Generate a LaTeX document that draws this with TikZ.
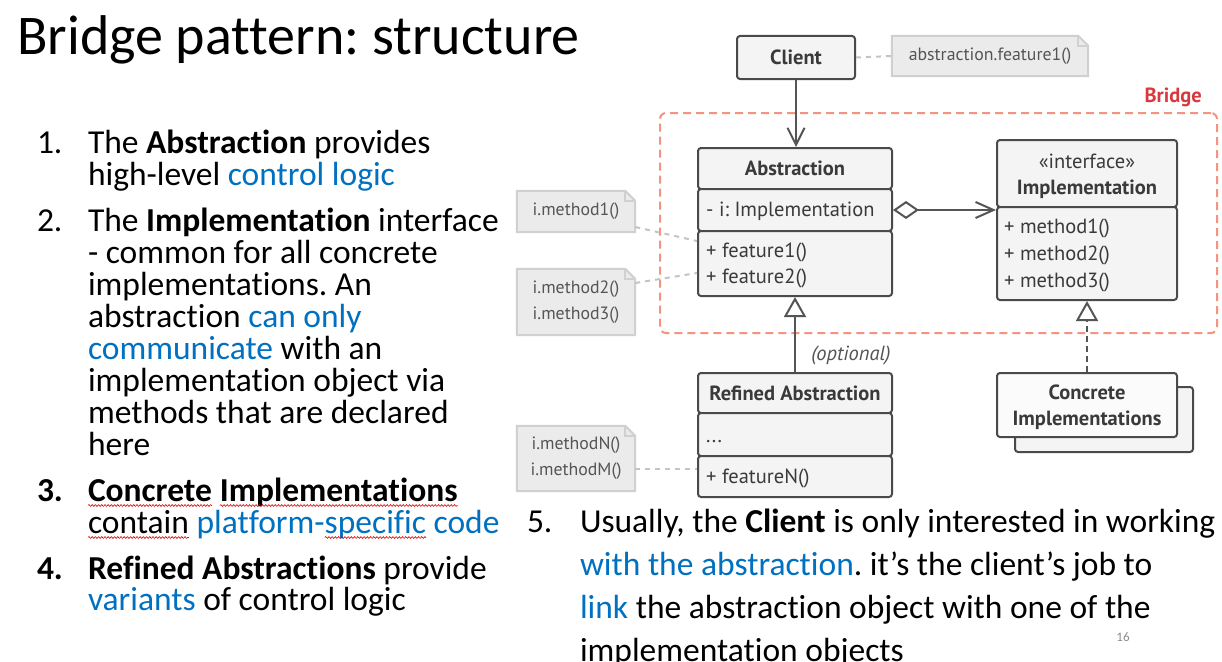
\documentclass[tikz,border=0pt]{standalone}
\usepackage{fontspec}
\setmainfont{Carlito}[Ligatures={NoCommon}]
\newfontfamily\dgf{PT Sans}
\usetikzlibrary{arrows.meta,backgrounds,decorations.pathmorphing}
\definecolor{linkblue}{HTML}{0070C0}
\definecolor{boxline}{HTML}{4A4A4A}
\definecolor{boxfill}{HTML}{F4F4F4}
\definecolor{boxtext}{HTML}{3A3A3A}
\definecolor{notefill}{HTML}{EBEBEB}
\definecolor{noteline}{HTML}{D0D0D0}
\definecolor{notetext}{HTML}{555555}
\definecolor{dotline}{HTML}{C4C4C4}
\definecolor{bridgered}{HTML}{F4937F}
\definecolor{bridgetext}{HTML}{D8393E}
\definecolor{arrowgray}{HTML}{555555}
\newcommand\bl[1]{\textcolor{linkblue}{#1}}
\newcommand\dogear[1]{%
  \path[fill=notefill, draw=noteline, line width=2pt] (#1.north west) -- ([xshift=-10pt]#1.north east) -- ([yshift=-10pt]#1.north east) -- (#1.south east) -- (#1.south west) -- cycle;
  \draw[noteline, line width=2pt] ([xshift=-10pt]#1.north east) -- ([xshift=-10pt,yshift=-10pt]#1.north east) -- ([yshift=-10pt]#1.north east);}
\newcommand\squnder[1]{\draw[squig] ([yshift=-4.5pt]#1.base west) -- ([yshift=-4.5pt]#1.base east);}
\begin{document}
\frenchspacing
\begin{tikzpicture}[x=1pt,y=-1pt,
  txt/.style={anchor=base west, inner sep=0, outer sep=0, font=\fontsize{33.5}{33.5}\selectfont},
  txtb/.style={anchor=base west, inner sep=0, outer sep=0, font=\fontsize{33.5}{33.5}\selectfont},
  sec/.style={draw=boxline, fill=boxfill, line width=2pt, rounded corners=3pt, inner sep=0, text=boxtext, align=center},
  hdr/.style={sec, font=\dgf\bfseries\fontsize{20.5}{26}\selectfont},
  lbl/.style={inner sep=0, text=boxtext, align=center, font=\dgf\fontsize{20.5}{26}\selectfont},
  mem/.style={anchor=mid west, inner sep=0, text=boxtext, font=\dgf\fontsize{20.5}{22}\selectfont},
  notebox/.style={inner sep=0, text=notetext, align=center, font=\dgf\fontsize{17.8}{26}\selectfont},
  dotc/.style={dotline, line width=2pt, dash pattern=on 5pt off 5pt},
  conn/.style={arrowgray, line width=2pt},
  bridgebox/.style={draw=bridgered, line width=2pt, dash pattern=on 8pt off 5pt, rounded corners=6pt, inner sep=0},
  squig/.style={red!85!black, line width=0.6pt, decorate, decoration={snake, amplitude=0.9pt, segment length=3.2pt}}
]
\useasboundingbox (0,0) rectangle (1222,661);
\begin{pgfonlayer}{background}
\fill[white] (0,0) rectangle (1222,661);
\end{pgfonlayer}

% title
\node[anchor=base west, inner sep=0, font=\fontsize{56}{56}\selectfont] (title) at (17,55) {Bridge pattern: structure};

% left list
\node[txt] (n1) at (37,153) {1.};
\node[txt] (t1a) at (88,153) {The \textbf{Abstraction} provides};
\node[txt] (t1b) at (88,185) {high-level \bl{control logic}};
\node[txt] (n2) at (37,231) {2.};
\node[txt] (t2a) at (88,231) {The \textbf{Implementation} interface};
\node[txt] (t2b) at (88,263) {- common for all concrete};
\node[txt] (t2c) at (88,295) {implementations. An};
\node[txt] (t2d) at (88,327) {abstraction \bl{can only}};
\node[txt] (t2e) at (88,359) {\bl{communicate} with an};
\node[txt] (t2f) at (88,391) {implementation object via};
\node[txt] (t2g) at (88,423) {methods that are declared};
\node[txt] (t2h) at (88,455) {here};
\node[txt] (n3) at (37,501) {\textbf{3.}};
\node[txt] (t3a) at (88,501) {\textbf{Concrete}};
\node[txt] (t3b) at ([xshift=7.9pt]t3a.base east) {\textbf{Implementations}};
\node[txt] (t3c) at (88,533) {contain};
\node[txt] (t3d) at ([xshift=7.6pt]t3c.base east) {\bl{platform-}};
\node[txt] (t3e) at (t3d.base east) {\bl{specific}};
\node[txt] (t3f) at ([xshift=7.6pt]t3e.base east) {\bl{code}};
\squnder{t3a}\squnder{t3b}\squnder{t3c}\squnder{t3e}
\node[txt] (n4) at (37,579) {\textbf{4.}};
\node[txt] (t4a) at (88,579) {\textbf{Refined Abstractions} provide};
\node[txt] (t4b) at (88,610) {\bl{variants} of control logic};

% item 5
\node[txtb] (n5) at (527,532) {5.};
\node[txtb] (t5a) at (580,532) {Usually, the \textbf{Client} is only interested in working};
\node[txtb] (t5b) at (580,575) {\bl{with the abstraction}. it’s the client’s job to};
\node[txtb] (t5c) at (580,618) {\bl{link} the abstraction object with one of the};
\node[txtb] (t5d) at (580,661) {implementation objects};
\node[anchor=center, inner sep=0, text=black!45, font=\fontsize{13}{13}\selectfont] (pg) at (1123,637) {16};

% bridge region
\node[bridgebox, minimum width=557pt, minimum height=220pt] (bridge) at (938.5,223) {};
\node[anchor=base east, inner sep=0, text=bridgetext, font=\dgf\bfseries\fontsize{20.5}{22}\selectfont] (bridgelbl) at (1202,102) {Bridge};

% notes
\node[notebox, minimum width=196pt, minimum height=40pt] (note0) at (990,56) {abstraction.feature1()};
\node[notebox, minimum width=118pt, minimum height=41pt] (note1) at (576,211.5) {i.method1()};
\node[notebox, minimum width=118pt, minimum height=66pt] (note2) at (576,302) {i.method2()\\i.method3()};
\node[notebox, minimum width=118pt, minimum height=65pt] (note3) at (576,458.5) {i.methodN()\\i.methodM()};
\begin{pgfonlayer}{background}
\dogear{note0}\dogear{note1}\dogear{note2}\dogear{note3}
\end{pgfonlayer}

% client
\node[hdr, minimum width=118pt, minimum height=43pt] (client) at (796,57.5) {Client};

% abstraction
\node[hdr, minimum width=194pt, minimum height=41pt] (absH) at (795,168.5) {Abstraction};
\node[sec, minimum width=194pt, minimum height=42pt] (absF) at (795,210) {};
\node[sec, minimum width=194pt, minimum height=65pt] (absM) at (795,263.5) {};
\node[mem] (absF1) at (706,214) {- i: Implementation};
\node[mem] (absM1) at (706,255) {+ feature1()};
\node[mem] (absM2) at (706,281) {+ feature2()};

% implementation
\node[sec, minimum width=180pt, minimum height=67pt] (implH) at (1087,173.5) {};
\node[lbl] (implHt) at ([yshift=-2.5pt]implH.center) {«interface»\\\textbf{Implementation}};
\node[sec, minimum width=180pt, minimum height=93pt] (implM) at (1087,253.5) {};
\node[mem] (implM1) at (1004,231) {+ method1()};
\node[mem] (implM2) at (1004,258) {+ method2()};
\node[mem] (implM3) at (1004,285) {+ method3()};

% refined abstraction
\node[hdr, minimum width=194pt, minimum height=40pt] (refH) at (795,393) {Refined Abstraction};
\node[sec, minimum width=194pt, minimum height=43pt] (refD) at (795,434.5) {};
\node[sec, minimum width=194pt, minimum height=41pt] (refM) at (795,476.5) {};
\node[mem] (refD1) at (706,440) {...};
\node[mem] (refM1) at (706,481) {+ featureN()};

% concrete implementations
\node[sec, minimum width=178pt, minimum height=65pt] (conB) at (1104,419.5) {};
\node[sec, minimum width=180pt, minimum height=64pt, fill=white!60!boxfill] (conF) at (1087,405) {};
\node[lbl, font=\dgf\bfseries\fontsize{20.5}{26}\selectfont] (conFt) at ([yshift=-2.5pt]conF.center) {Concrete\\Implementations};

% optional label
\node[inner sep=0, text=notetext, font=\dgf\itshape\fontsize{20.5}{22}\selectfont] (opt) at (851,355) {(optional)};

% connectors
\draw[conn, -{Straight Barb[length=17pt,width=17pt]}] (client.south) -- (client.south |- absH.north);
\draw[conn, {Diamond[open,length=26pt,width=18pt]}-{Straight Barb[length=18pt,width=16pt]}] (absF.east) -- (absF.east -| implM.west);
\draw[conn, -{Triangle[open,length=20pt,width=22pt]}] (refH.north) -- (absM.south);
\draw[conn, dash pattern=on 6pt off 4pt, -{Triangle[open,length=20pt,width=22pt]}] (conF.north) -- (implM.south);
\draw[dotc] (client.east) -- (note0.west);
\draw[dotc] ([yshift=-15.5pt]note1.east) -- ([yshift=22.5pt]absM.west);
\draw[dotc] ([yshift=19pt]note2.east) -- ([yshift=-9.5pt]absM.west);
\draw[dotc] ([yshift=-10.5pt]note3.east) -- ([yshift=7.5pt]refM.west);
\end{tikzpicture}
\end{document}
